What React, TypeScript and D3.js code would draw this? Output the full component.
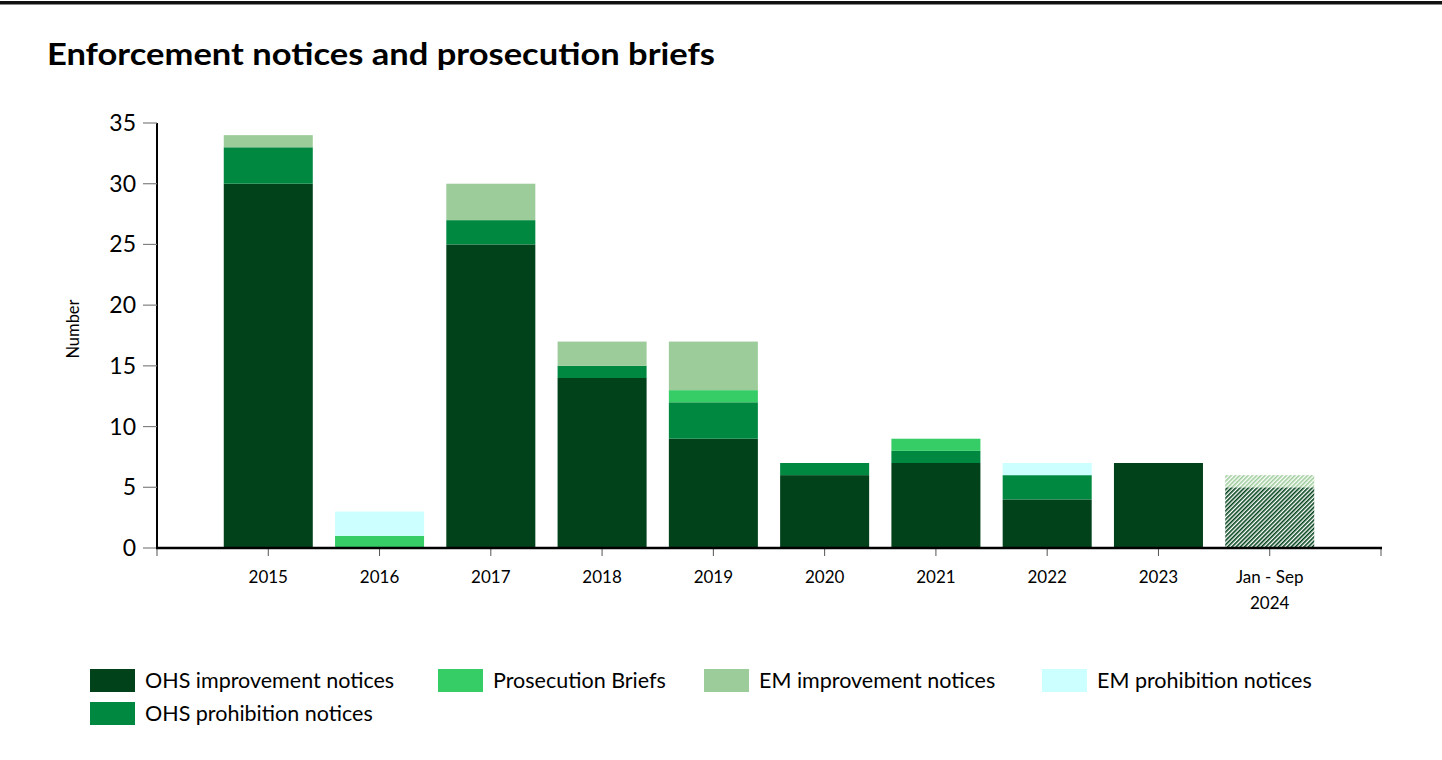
import React from "react";
import * as d3 from "d3";

const categories = ["2015", "2016", "2017", "2018", "2019", "2020", "2021", "2022", "2023", "Jan - Sep 2024"];
const ohsImprovement = [30, 0, 25, 14, 9, 6, 7, 4, 7, 5];
const ohsProhibition = [3, 0, 2, 1, 3, 1, 1, 2, 0, 0];
const prosecutionBriefs = [0, 1, 0, 0, 1, 0, 1, 0, 0, 0];
const emImprovement = [1, 0, 3, 2, 4, 0, 0, 0, 0, 1];
const emProhibition = [0, 2, 0, 0, 0, 0, 0, 1, 0, 0];
const yTicks = [0, 5, 10, 15, 20, 25, 30, 35];
const hatchedCategory = "Jan - Sep 2024";

const seriesNames = [
  "OHS improvement notices",
  "OHS prohibition notices",
  "Prosecution Briefs",
  "EM improvement notices",
  "EM prohibition notices",
];
const seriesValues = [ohsImprovement, ohsProhibition, prosecutionBriefs, emImprovement, emProhibition];
const colors = ["#02421a", "#008840", "#36cc66", "#9dcc9b", "#ccffff"];

const legendItems = [
  { idx: 0, x: 90, y: 669 },
  { idx: 2, x: 438, y: 669 },
  { idx: 3, x: 704, y: 669 },
  { idx: 4, x: 1042, y: 669 },
  { idx: 1, x: 90, y: 702 },
];

const FONT = "Lato, 'Open Sans', sans-serif";

export default function App() {
  const x = d3
    .scalePoint<string>()
    .domain(["__start", ...categories, "__end"])
    .range([157, 1381]);
  const step = x.step();
  const barW = step * 0.8;
  const y = d3.scaleLinear().domain([0, 35]).range([548, 123]);

  const rows = categories.map((c, i) => {
    const r: any = { cat: c };
    seriesNames.forEach((s, k) => (r[s] = seriesValues[k][i]));
    return r;
  });
  const stacked = d3.stack<any>().keys(seriesNames)(rows);

  return (
    <svg
      width={1442}
      height={760}
      style={{ position: "absolute", left: 0, top: 0, display: "block", background: "#fff" }}
      fontFamily={FONT}
    >
      <defs>
        {colors.map((col, k) => (
          <pattern key={k} id={`hatch${k}`} patternUnits="userSpaceOnUse" width={3} height={3} patternTransform="rotate(45)">
            <rect width={3} height={3} fill="#fff" />
            <rect width={1.6} height={3} fill={col} />
          </pattern>
        ))}
      </defs>
      <rect x={0} y={1} width={1442} height={3.5} fill="#111" />
      <text x={47} y={65} fontSize={31} fontWeight={700} fill="#000" textLength={668} lengthAdjust="spacingAndGlyphs">
        Enforcement notices and prosecution briefs
      </text>

      {/* bars */}
      {stacked.map((layer, k) =>
        layer.map((d, i) => {
          const v = d[1] - d[0];
          if (v <= 0) return null;
          const c = categories[i];
          const cx = x(c)!;
          const hatched = c === hatchedCategory;
          return (
            <rect
              key={`${k}-${i}`}
              x={cx - barW / 2}
              y={y(d[1])}
              width={barW}
              height={y(d[0]) - y(d[1])}
              fill={hatched ? `url(#hatch${k})` : colors[k]}
            />
          );
        })
      )}

      {/* y axis */}
      <line x1={157} x2={157} y1={y(35)} y2={y(0)} stroke="#000" strokeWidth={2} />
      {yTicks.map((t) => (
        <g key={t}>
          <line x1={143} x2={157} y1={y(t)} y2={y(t)} stroke="#808080" strokeWidth={1.2} />
          <text x={136} y={y(t)} dy="0.35em" textAnchor="end" fontSize={23} fill="#000">
            {t}
          </text>
        </g>
      ))}
      <text
        transform={`translate(79,${329}) rotate(-90)`}
        textAnchor="middle"
        fontSize={16.5}
        fill="#000"
      >
        Number
      </text>

      {/* x axis */}
      {x.domain().map((c) => (
        <line key={c} x1={x(c)!} x2={x(c)!} y1={548} y2={556} stroke="#555" strokeWidth={1} />
      ))}
      <line x1={156} x2={1382} y1={548} y2={548} stroke="#000" strokeWidth={2.5} />
      {categories.map((c) => {
        const parts = c === hatchedCategory ? ["Jan - Sep", "2024"] : [c];
        return (
          <text key={c} x={x(c)!} textAnchor="middle" fontSize={17} fill="#000">
            {parts.map((p, j) => (
              <tspan key={j} x={x(c)!} y={583 + j * 26}>
                {p}
              </tspan>
            ))}
          </text>
        );
      })}

      {/* legend */}
      {legendItems.map((it) => (
        <g key={it.idx}>
          <rect x={it.x} y={it.y} width={45} height={23} fill={colors[it.idx]} />
          <text x={it.x + 55} y={it.y + 18.5} fontSize={21.5} fill="#000">
            {seriesNames[it.idx]}
          </text>
        </g>
      ))}
    </svg>
  );
}
